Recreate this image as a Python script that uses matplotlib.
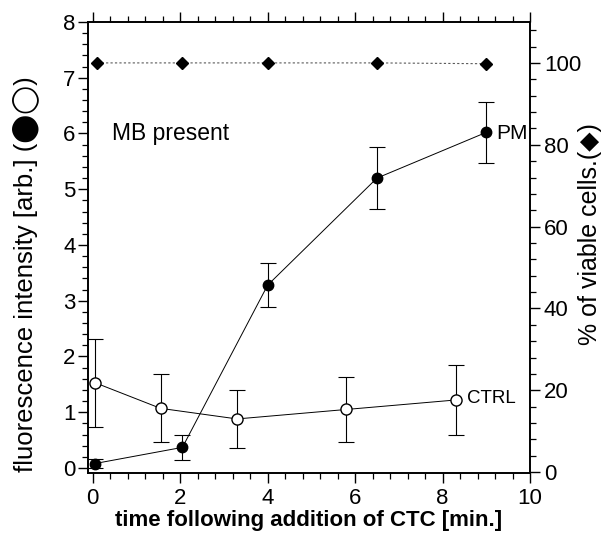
import matplotlib.pyplot as plt
from matplotlib.ticker import MultipleLocator

# PM (filled circles)
pm_time = [0.05, 2.05, 4.0, 6.5, 9.0]
pm_fluor = [0.08, 0.37, 3.28, 5.20, 6.02]
pm_err = [0.08, 0.22, 0.40, 0.56, 0.55]

# control (open circles)
ctrl_time = [0.05, 1.55, 3.3, 5.8, 8.3]
ctrl_fluor = [1.53, 1.07, 0.88, 1.05, 1.22]
ctrl_err = [0.79, 0.61, 0.52, 0.58, 0.63]

# viability (diamonds, right axis)
viab_time = [0.1, 2.05, 4.0, 6.5, 9.0]
viab_pct = [100.0, 100.0, 100.0, 100.0, 99.8]

x_ticks = [0, 2, 4, 6, 8, 10]
left_ticks = [0, 1, 2, 3, 4, 5, 6, 7, 8]
right_ticks = [0, 20, 40, 60, 80, 100]

plt.rcParams["font.family"] = ["Liberation Sans", "DejaVu Sans"]

fig = plt.figure(figsize=(6.08, 5.36), dpi=100)
ax = fig.add_axes([0.1447, 0.1175, 0.727, 0.8415])

ax.errorbar(ctrl_time, ctrl_fluor, yerr=ctrl_err, fmt="o-", color="black",
            mfc="white", mec="black", ms=8, lw=0.7, elinewidth=0.8,
            capsize=6, capthick=0.8, zorder=3)
ax.errorbar(pm_time, pm_fluor, yerr=pm_err, fmt="o-", color="black",
            mfc="black", ms=7.5, lw=0.7, elinewidth=0.8,
            capsize=6, capthick=0.8, zorder=4)

ax.set_xlim(-0.11, 10)
ax.set_ylim(-0.09, 8)
ax.set_xticks(x_ticks)
ax.set_yticks(left_ticks)
ax.xaxis.set_minor_locator(MultipleLocator(0.4))
ax.yaxis.set_minor_locator(MultipleLocator(0.2))
ax.tick_params(axis="both", which="major", direction="out", length=7,
               width=1.0, labelsize=16)
ax.tick_params(axis="both", which="minor", direction="out", length=4,
               width=0.9)
ax.tick_params(axis="y", pad=2)
ax.tick_params(axis="x", top=True, which="both")
ax.tick_params(axis="y", right=False, which="both")
for sp in ax.spines.values():
    sp.set_linewidth(1.2)

ax.set_xlabel("time following addition of CTC [min.]", fontsize=16,
              fontweight="bold", labelpad=1)
ax.set_ylabel("fluorescence intensity [arb.] (⬤◯)", fontsize=18.5,
              family=["Liberation Sans", "DejaVu Sans"])
ax.yaxis.set_label_coords(-0.11, 0.44)

ax.text(0.45, 6.0, "MB present", fontsize=16.5, va="center", ha="left")
ax.text(9.22, 6.0, "PM", fontsize=15, va="center", ha="left")
ax.text(8.55, 1.25, "CTRL", fontsize=13.5, va="center", ha="left")

ax2 = ax.twinx()
ax2.plot(viab_time, viab_pct, linestyle=(0, (2, 2)), color="0.35", lw=0.8,
         marker="D", mfc="black", mec="black", ms=6.5, zorder=5)
ax2.set_ylim(-0.2, 110)
ax2.set_yticks(right_ticks)
ax2.yaxis.set_minor_locator(MultipleLocator(4))
ax2.tick_params(axis="y", which="major", direction="out", length=7,
                width=1.0, labelsize=16, pad=3)
ax2.tick_params(axis="y", which="minor", direction="out", length=4,
                width=0.9)
ax2.set_ylabel("% of viable cells.(◆)", fontsize=18)
ax2.yaxis.set_label_coords(1.108, 0.53)
for sp in ax2.spines.values():
    sp.set_linewidth(1.2)

fig.savefig("out.png", dpi=100)
